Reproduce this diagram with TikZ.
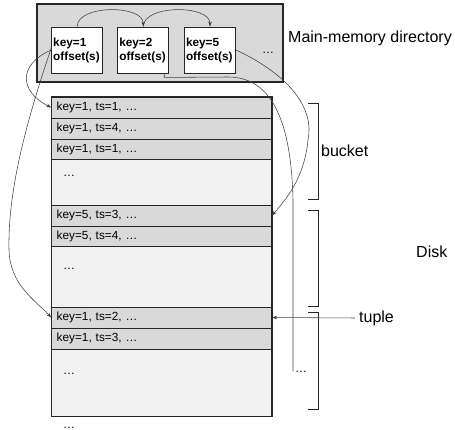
\documentclass[tikz,border=0pt]{standalone}
\usepackage{fontspec}
\setmainfont{Liberation Sans}
\usetikzlibrary{arrows.meta}
\begin{document}
\begin{tikzpicture}[x=1pt,y=-1pt,
  conn/.style={draw=black!75, line width=0.55pt},
  tip/.style={-{Stealth[length=5pt,width=3.5pt]}},
  mainbox/.style={draw=black!85, line width=1.5pt, fill=gray!30, minimum width=246pt, minimum height=78pt, inner sep=0pt},
  keybox/.style={draw=black!85, line width=0.9pt, fill=white, minimum width=51pt, minimum height=46pt, text width=48pt, inner xsep=1.5pt, align=left, font=\bfseries\fontsize{11.8}{14}\selectfont},
  rowbox/.style={draw=black!85, line width=0.9pt, fill=gray!30, minimum width=220pt, text width=210pt, inner xsep=5pt, inner ysep=0pt, align=left, font=\fontsize{11.8}{13}\selectfont},
  emptybox/.style={draw=black!85, line width=0.9pt, fill=gray!10, minimum width=220pt, inner sep=0pt},
  lbl/.style={font=\fontsize{16}{19}\selectfont, inner sep=0pt},
  dots/.style={font=\fontsize{12}{14}\selectfont, inner sep=0pt, anchor=base west},
  brk/.style={draw=black!85, line width=1pt}
]
\useasboundingbox (0,0) rectangle (455,430);

% main-memory directory
\node[mainbox] (mm) at (160,43) {};
\node[keybox] (k1) at (77.2,50) {key=1\\offset(s)};
\node[keybox] (k2) at (143.3,50) {key=2\\offset(s)};
\node[keybox] (k5) at (210,50) {key=5\\offset(s)};
\node[dots] (md) at (262,54) {…};
\node[lbl, anchor=west] (mml) at (288,38) {Main-memory directory};

% disk column
\node[rowbox, minimum height=21pt] (r1) at (161.7,107.5) {key=1, ts=1, …};
\node[rowbox, minimum height=21pt] (r2) at (161.7,128.5) {key=1, ts=4, …};
\node[rowbox, minimum height=20pt] (r3) at (161.7,149) {key=1, ts=1, …};
\node[emptybox, minimum height=46pt] (e1) at (161.7,182) {};
\node[rowbox, minimum height=21pt] (r4) at (161.7,215.5) {key=5, ts=3, …};
\node[rowbox, minimum height=20pt] (r5) at (161.7,236) {key=5, ts=4, …};
\node[emptybox, minimum height=61pt] (e2) at (161.7,276.5) {};
\node[rowbox, minimum height=21pt] (r6) at (161.7,317.5) {key=1, ts=2, …};
\node[rowbox, minimum height=21pt] (r7) at (161.7,338.5) {key=1, ts=3, …};
\node[emptybox, minimum height=67pt] (e3) at (161.7,382.5) {};
\draw[draw=black!85, line width=1.4pt] (r1.north west) rectangle (e3.south east);

\node[dots] (d1) at (63,177) {…};
\node[dots] (d2) at (63,270) {…};
\node[dots] (d3) at (63,374) {…};
\node[dots] (d4) at (63,428) {…};
\node[dots] (rd) at (295,372) {…};

% brackets
\draw[brk] (308,103.3) -- (318,103.3) -- (318,200) -- (308,200);
\draw[brk] (308,210.7) -- (318,210.7) -- (318,306.7) -- (308,306.7);
\draw[brk] (308,312.7) -- (318,312.7) -- (318,409.5) -- (308,409.5);
\node[lbl, anchor=west] (bl) at (321,151) {bucket};
\node[lbl, anchor=west] (dl) at (416,252) {Disk};
\node[lbl, anchor=west] (tl) at (359,318) {tuple};

% connectors
\draw[conn, tip] (k1.north) .. controls +(0,-22) and +(0,-22) .. (k2.north);
\draw[conn, tip] (k2.north) .. controls +(0,-22) and +(0,-22) .. (k5.north);
\draw[conn, tip] (k1.west) .. controls (17,65) and (20,92) .. (r1.west);
\draw[conn, tip] ([yshift=2pt]k1.west) .. controls (20,140) and (8,200) .. (9,250)
   .. controls (10,285) and (35,300) .. (r6.west);
\draw[conn] ([xshift=-5pt]k2.south east) -- ++(0,4) -- (228,77)
   .. controls (266,77) and (291,110) .. (293,200) -- ([xshift=-2pt]rd.west);
\draw[conn, tip] (k5.east) .. controls (275,68) and (316,100) .. (308,140)
   .. controls (304,180) and (285,200) .. (r4.east);
\draw[conn, tip] ([xshift=-4pt]tl.west) -- (r6.east);
\end{tikzpicture}
\end{document}
